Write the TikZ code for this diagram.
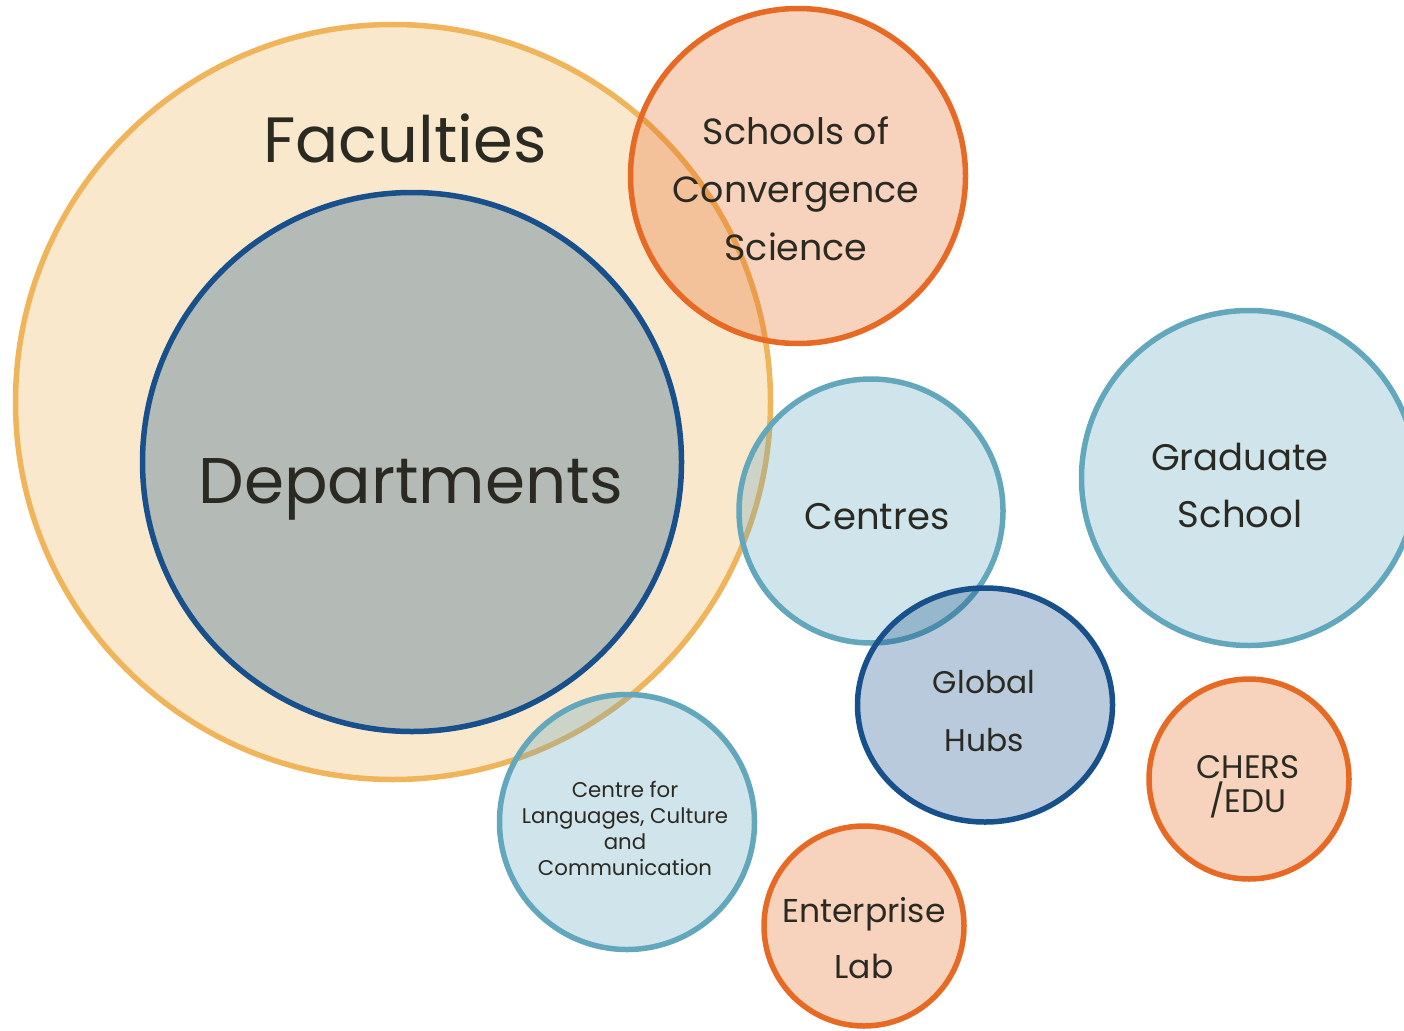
\documentclass[tikz,border=0pt]{standalone}
\usepackage{fontspec}
\setmainfont{Poppins}
\usetikzlibrary{shapes.geometric}
\definecolor{facultyorange}{HTML}{F0B45A}
\definecolor{deptblue}{HTML}{17508A}
\definecolor{deptgrey}{HTML}{B4BAB5}
\definecolor{schoolorange}{HTML}{E66A24}
\definecolor{centreteal}{HTML}{62A7BC}
\definecolor{textdark}{HTML}{2B2A22}
\tikzset{
  unitcircle/.style={circle, draw=#1, line width=5.5pt, fill=#1, fill opacity=0.3, inner sep=0pt},
  unittext/.style={text=textdark, align=center, inner sep=0pt}
}
\begin{document}
\begin{tikzpicture}[x=1pt,y=-1pt]
\useasboundingbox (0,0) rectangle (1404,1030);

\node[unitcircle=facultyorange, minimum size=755pt] (faculties) at (393,402) {};
\node[circle, draw=deptblue, line width=5.5pt, fill=deptgrey, inner sep=0pt, minimum size=539pt] (departments) at (412,462) {};
\node[unitcircle=schoolorange, minimum size=335pt] (schools) at (798,176) {};
\node[unitcircle=centreteal, minimum size=264pt] (centres) at (871,511) {};
\node[unitcircle=centreteal, minimum size=335pt] (graduate) at (1249,478) {};
\node[unitcircle=deptblue, ellipse, minimum width=255pt, minimum height=234pt] (hubs) at (985,705) {};
\node[unitcircle=schoolorange, minimum size=200pt] (chers) at (1249,779) {};
\node[unitcircle=centreteal, minimum size=255pt] (languages) at (627,822) {};
\node[unitcircle=schoolorange, minimum size=200pt] (enterprise) at (864,926) {};

\node[unittext, anchor=base, font=\fontsize{64}{74}\selectfont] (facultiestext) at (405,162) {Faculties};
\node[unittext, anchor=base, font=\fontsize{64.5}{74}\selectfont] (departmentstext) at (411,503) {Departments};
\node[unittext, font=\fontsize{36.4}{58}\selectfont] (schoolstext) at (796,189) {Schools of\\Convergence\\Science};
\node[unittext, anchor=base, font=\fontsize{37}{57}\selectfont] (centrestext) at (877,529) {Centres};
\node[unittext, font=\fontsize{37}{57}\selectfont] (graduatetext) at (1240,485) {Graduate\\School};
\node[unittext, font=\fontsize{31.3}{58}\selectfont] (hubstext) at (984,711) {Global\\Hubs};
\node[unittext, font=\fontsize{32.5}{34}\selectfont] (cherstext) at (1248,787) {CHERS\\/EDU};
\node[unittext, font=\fontsize{33}{56}\selectfont] (enterprisetext) at (864,938) {Enterprise\\Lab};
\node[unittext, font=\fontsize{21.3}{26}\selectfont] (languagestext) at (625,828) {Centre for\\Languages, Culture\\and\\Communication};
\end{tikzpicture}
\end{document}
